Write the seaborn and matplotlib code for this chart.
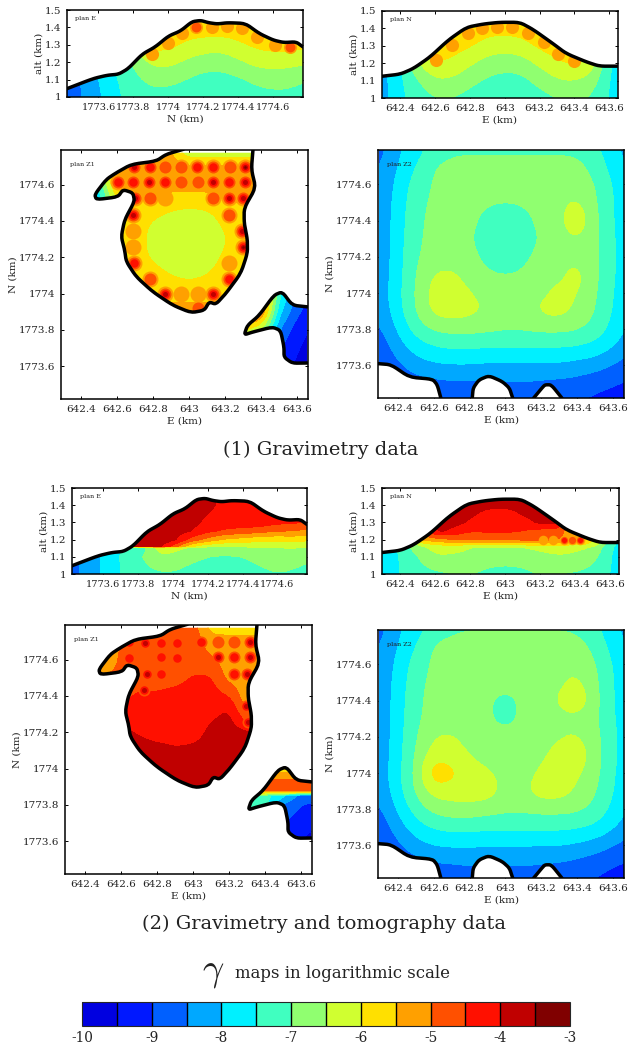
import matplotlib
matplotlib.use("Agg")
import matplotlib.pyplot as plt
import numpy as np
import seaborn as sns
from matplotlib.cm import ScalarMappable
from matplotlib.colors import BoundaryNorm, ListedColormap
from matplotlib.patches import Polygon

LEVEL_COLORS = ["#0000e0", "#0018ff", "#0060ff", "#00a8ff", "#00f0ff", "#40ffc0", "#90ff70",
                "#d0ff30", "#ffe000", "#ffa000", "#ff5000", "#ff1000", "#c00000", "#800000"]
LEVELS = [-10, -9.5, -9, -8.5, -8, -7.5, -7, -6.5, -6, -5.5, -5, -4.5, -4, -3.5, -3]
BAR_TICKS = [-10, -9, -8, -7, -6, -5, -4, -3]

NORTH_TICKS = [1773.6, 1773.8, 1774, 1774.2, 1774.4, 1774.6]
NORTH_LABELS = ["1773.6", "1773.8", "1774", "1774.2", "1774.4", "1774.6"]
EAST_TICKS = [642.4, 642.6, 642.8, 643, 643.2, 643.4, 643.6]
EAST_LABELS = ["642.4", "642.6", "642.8", "643", "643.2", "643.4", "643.6"]
ALT_TICKS = [1, 1.1, 1.2, 1.3, 1.4, 1.5]
ALT_LABELS = ["1", "1.1", "1.2", "1.3", "1.4", "1.5"]

# topography, sections
TOPO_E_N = [1773.42, 1773.57, 1773.65, 1773.715, 1773.77, 1773.85, 1773.925, 1774.0, 1774.07, 1774.135,
            1774.185, 1774.23, 1774.28, 1774.34, 1774.44, 1774.52, 1774.6, 1774.66, 1774.73, 1774.77]
TOPO_E_ALT = [1.048, 1.106, 1.125, 1.131, 1.163, 1.246, 1.288, 1.35, 1.38, 1.433,
              1.44, 1.427, 1.42, 1.427, 1.423, 1.365, 1.327, 1.313, 1.317, 1.288]
TOPO_N_E = [642.295, 642.4, 642.476, 642.571, 642.676, 642.78, 642.876, 642.97, 643.086, 643.162,
            643.276, 643.352, 643.467, 643.543, 643.648]
TOPO_N_ALT = [1.125, 1.137, 1.17, 1.236, 1.333, 1.406, 1.425, 1.435, 1.435, 1.394,
              1.313, 1.256, 1.208, 1.183, 1.183]

# map outlines
MAIN_E = [642.969, 642.873, 642.818, 642.68, 642.597, 642.541, 642.477, 642.486, 642.606, 642.634, 642.689,
          642.698, 642.643, 642.624, 642.643, 642.652, 642.707, 642.799, 642.91, 643.011, 643.085, 643.112,
          643.149, 643.204, 643.287, 643.324, 643.324, 643.306, 643.306, 643.37, 643.346, 643.355]
MAIN_N = [1774.794, 1774.766, 1774.729, 1774.711, 1774.665, 1774.628, 1774.545, 1774.517, 1774.532, 1774.572,
          1774.554, 1774.508, 1774.406, 1774.314, 1774.24, 1774.176, 1774.093, 1774.01, 1773.936, 1773.895,
          1773.908, 1773.954, 1773.941, 1774.0, 1774.111, 1774.222, 1774.296, 1774.388, 1774.471, 1774.582,
          1774.683, 1774.794]
EAST_E = [643.656, 643.573, 643.517, 643.471, 643.389, 643.324, 643.306, 643.352, 643.462, 643.508, 643.527,
          643.527, 643.573, 643.656]
EAST_N = [1773.927, 1773.936, 1774.01, 1773.991, 1773.88, 1773.825, 1773.773, 1773.788, 1773.816, 1773.797,
          1773.705, 1773.65, 1773.617, 1773.618]
HOLE1_E = [642.289, 642.363, 642.465, 642.594, 642.62, 642.64]
HOLE1_N = [1773.61, 1773.604, 1773.535, 1773.524, 1773.493, 1773.42]
HOLE2_E = [642.815, 642.82, 642.852, 642.908, 642.982, 643.022, 643.04]
HOLE2_N = [1773.42, 1773.475, 1773.52, 1773.543, 1773.511, 1773.475, 1773.42]
HOLE3_E = [643.157, 643.203, 643.22, 643.255, 643.314]
HOLE3_N = [1773.42, 1773.475, 1773.493, 1773.493, 1773.42]

# gamma grids (log10), rows = ascending altitude or north
SEC_N = [1773.4, 1773.5, 1773.6, 1773.7, 1773.8, 1773.9, 1774.0, 1774.1, 1774.2, 1774.3, 1774.4, 1774.5, 1774.6,
         1774.7, 1774.8]
SEC_E = [642.3, 642.4, 642.5, 642.6, 642.7, 642.8, 642.9, 643.0, 643.1, 643.2, 643.3, 643.4, 643.5, 643.6, 643.7]
SEC_ALT = [1.0, 1.1, 1.2, 1.3, 1.4, 1.5]
PLAN_E_GRAV = [
    [-8.85, -8.55, -8.1, -7.6, -7.3, -7.15, -7.2, -7.4, -7.45, -7.45, -7.4, -7.2, -7.15, -7.15, -7.3],
    [-8.8, -8.5, -8.0, -7.55, -7.15, -6.9, -6.85, -7.0, -7.2, -7.2, -7.1, -6.9, -6.8, -6.85, -7.0],
    [-8.7, -8.4, -7.9, -7.4, -6.95, -6.4, -6.35, -6.6, -6.75, -6.8, -6.6, -6.35, -6.3, -6.35, -6.45],
    [-8.6, -8.3, -7.8, -7.3, -6.5, -5.8, -5.85, -6.1, -6.25, -6.3, -6.1, -5.9, -5.8, -5.8, -5.9],
    [-8.5, -8.2, -7.7, -7.2, -6.2, -5.5, -5.5, -5.7, -5.7, -5.7, -5.7, -5.5, -5.5, -5.5, -5.5],
    [-8.5, -8.2, -7.7, -7.2, -6.1, -5.4, -5.4, -5.5, -5.5, -5.5, -5.5, -5.4, -5.4, -5.4, -5.4],
]
PLAN_N_GRAV = [
    [-8.2, -7.6, -7.3, -7.05, -7.05, -7.2, -7.4, -7.45, -7.4, -7.2, -7.05, -7.0, -7.05, -7.55, -7.9],
    [-8.2, -7.6, -7.05, -6.55, -6.6, -6.85, -7.1, -7.2, -7.15, -6.85, -6.55, -6.5, -6.75, -7.55, -7.9],
    [-8.1, -7.55, -6.5, -6.05, -6.1, -6.45, -6.7, -6.8, -6.75, -6.4, -6.1, -5.9, -6.2, -7.5, -7.85],
    [-8.0, -7.5, -6.2, -5.6, -5.8, -5.95, -6.25, -6.3, -6.2, -5.9, -5.7, -5.6, -5.8, -7.2, -7.8],
    [-8.0, -7.5, -6.0, -5.5, -5.5, -5.55, -5.8, -5.8, -5.8, -5.5, -5.4, -5.4, -5.6, -7.0, -7.7],
    [-8.0, -7.5, -6.0, -5.4, -5.4, -5.4, -5.5, -5.5, -5.5, -5.4, -5.4, -5.4, -5.5, -7.0, -7.7],
]
ALT_E_JOINT = [1.0, 1.1, 1.155, 1.16, 1.2, 1.25, 1.3, 1.4, 1.5]
PLAN_E_JOINT = [
    [-8.8, -8.3, -7.95, -7.45, -7.3, -7.1, -7.05, -7.3, -7.4, -7.45, -7.4, -7.15, -7.0, -7.1, -7.3],
    [-8.8, -8.3, -7.95, -7.45, -7.15, -6.6, -6.55, -6.8, -7.0, -7.05, -7.0, -6.8, -6.75, -6.75, -6.9],
    [-8.8, -8.3, -7.9, -7.45, -7.6, -6.3, -6.4, -6.5, -6.6, -6.7, -6.6, -6.5, -6.5, -6.45, -6.6],
    [-8.8, -8.3, -7.9, -3.8, -3.8, -3.7, -4.6, -6.0, -6.4, -6.5, -6.4, -6.35, -6.3, -6.3, -6.4],
    [-8.8, -8.3, -7.9, -3.8, -3.8, -3.7, -3.8, -4.7, -5.2, -5.6, -5.7, -5.9, -5.9, -5.8, -6.0],
    [-8.8, -8.3, -7.9, -3.8, -3.8, -3.8, -3.8, -3.95, -4.4, -4.6, -4.7, -4.8, -5.0, -5.0, -5.2],
    [-8.8, -8.3, -7.9, -3.8, -3.8, -3.8, -3.8, -3.8, -4.15, -4.2, -4.2, -4.2, -4.4, -4.4, -4.7],
    [-8.8, -8.3, -7.9, -3.8, -3.8, -3.8, -3.8, -3.8, -3.85, -4.2, -4.2, -4.2, -4.3, -4.4, -4.7],
    [-8.8, -8.3, -7.9, -3.8, -3.8, -3.8, -3.8, -3.8, -3.85, -4.2, -4.2, -4.2, -4.3, -4.4, -4.7],
]
ALT_N_JOINT = [1.0, 1.1, 1.155, 1.17, 1.2, 1.25, 1.3, 1.35, 1.4, 1.5]
PLAN_N_JOINT = [
    [-7.95, -7.45, -7.25, -7.1, -7.0, -6.95, -7.15, -7.2, -7.15, -6.95, -7.0, -7.05, -7.2, -7.5, -7.9],
    [-7.95, -7.45, -7.0, -6.55, -6.6, -6.65, -6.75, -6.8, -6.75, -6.65, -6.55, -6.6, -6.8, -7.5, -7.9],
    [-7.9, -7.4, -6.7, -6.3, -6.3, -6.5, -6.55, -6.55, -6.5, -6.4, -6.3, -6.4, -6.5, -7.45, -7.85],
    [-7.9, -7.4, -6.4, -6.0, -5.9, -6.0, -6.0, -6.05, -6.0, -5.8, -5.9, -6.0, -6.1, -7.4, -7.85],
    [-7.9, -7.4, -5.5, -5.2, -5.0, -5.0, -5.0, -5.0, -4.9, -4.8, -5.0, -5.3, -5.8, -7.4, -7.85],
    [-7.9, -7.4, -5.0, -3.9, -4.1, -4.5, -4.4, -4.4, -4.5, -4.7, -4.7, -5.5, -5.8, -7.4, -7.8],
    [-7.9, -7.4, -4.5, -3.8, -3.8, -4.1, -4.2, -4.2, -4.2, -3.9, -3.8, -5.5, -5.8, -7.4, -7.8],
    [-7.9, -7.4, -4.5, -3.8, -3.8, -3.9, -4.15, -4.2, -3.95, -3.8, -3.8, -5.5, -5.8, -7.4, -7.8],
    [-7.9, -7.4, -4.5, -3.8, -3.8, -3.8, -3.9, -3.9, -3.85, -3.8, -3.8, -5.5, -5.8, -7.4, -7.8],
    [-7.9, -7.4, -4.5, -3.8, -3.8, -3.8, -3.85, -3.85, -3.8, -3.8, -3.8, -5.5, -5.8, -7.4, -7.8],
]

MAP_N = [1773.4, 1773.5, 1773.6, 1773.7, 1773.8, 1773.9, 1774.0, 1774.1, 1774.2, 1774.3, 1774.4, 1774.5, 1774.6,
         1774.7, 1774.8]
Z2_GRAV = [
    [-9.4, -9.2, -9.1, -9.0, -9.0, -9.0, -8.95, -8.9, -8.9, -8.95, -9.0, -9.05, -9.1, -9.25, -9.4],
    [-9.3, -9.0, -8.75, -8.65, -8.6, -8.6, -8.6, -8.55, -8.55, -8.6, -8.65, -8.7, -8.85, -8.95, -9.1],
    [-9.1, -8.6, -8.25, -8.1, -8.05, -8.05, -8.1, -8.1, -8.1, -8.1, -8.1, -8.2, -8.3, -8.55, -8.8],
    [-8.85, -8.25, -7.8, -7.55, -7.45, -7.45, -7.5, -7.5, -7.5, -7.5, -7.5, -7.55, -7.7, -8.0, -8.4],
    [-8.6, -7.95, -7.3, -6.95, -6.85, -6.85, -6.9, -6.95, -6.95, -6.9, -6.9, -6.95, -7.2, -7.7, -8.15],
    [-8.4, -7.7, -7.0, -6.35, -6.25, -6.35, -6.55, -6.75, -6.7, -6.4, -6.3, -6.65, -7.0, -7.55, -8.0],
    [-8.3, -7.65, -6.95, -6.3, -6.25, -6.45, -6.7, -6.8, -6.75, -6.6, -6.35, -6.45, -6.95, -7.5, -8.0],
    [-8.35, -7.7, -7.0, -6.45, -6.4, -6.7, -6.95, -7.0, -6.95, -6.75, -6.6, -6.3, -6.9, -7.45, -7.95],
    [-8.4, -7.7, -7.05, -6.8, -6.7, -6.85, -7.15, -7.25, -7.1, -6.85, -6.7, -6.62, -6.9, -7.45, -7.95],
    [-8.4, -7.75, -7.1, -6.85, -6.75, -6.95, -7.25, -7.35, -7.25, -6.95, -6.75, -6.5, -6.9, -7.45, -7.95],
    [-8.4, -7.75, -7.15, -6.85, -6.75, -6.85, -7.2, -7.25, -7.2, -6.85, -6.6, -6.1, -6.9, -7.5, -7.95],
    [-8.4, -7.8, -7.2, -6.9, -6.75, -6.8, -6.95, -7.0, -6.95, -6.75, -6.65, -6.4, -6.95, -7.5, -7.95],
    [-8.5, -7.85, -7.3, -6.95, -6.75, -6.75, -6.8, -6.8, -6.8, -6.75, -6.7, -6.7, -7.0, -7.55, -8.0],
    [-8.55, -8.0, -7.5, -7.0, -6.9, -6.85, -6.85, -6.85, -6.85, -6.85, -6.85, -6.85, -7.2, -7.7, -8.1],
    [-8.7, -8.1, -7.75, -7.3, -7.1, -7.1, -7.1, -7.1, -7.1, -7.1, -7.1, -7.15, -7.4, -7.85, -8.3],
]
Z2_JOINT = [
    [-9.4, -9.2, -9.1, -9.0, -8.95, -8.9, -8.85, -8.85, -8.85, -8.9, -8.95, -9.0, -9.05, -9.2, -9.3],
    [-9.3, -9.0, -8.7, -8.55, -8.5, -8.45, -8.45, -8.45, -8.45, -8.5, -8.55, -8.65, -8.8, -8.95, -9.1],
    [-9.1, -8.6, -8.2, -8.0, -7.95, -7.95, -8.0, -8.0, -8.0, -8.0, -8.0, -8.1, -8.25, -8.5, -8.75],
    [-8.85, -8.25, -7.75, -7.45, -7.35, -7.35, -7.4, -7.4, -7.4, -7.4, -7.4, -7.45, -7.6, -7.95, -8.35],
    [-8.6, -7.95, -7.3, -6.85, -6.7, -6.7, -6.8, -6.9, -6.9, -6.85, -6.85, -6.9, -7.15, -7.65, -8.1],
    [-8.4, -7.7, -6.95, -6.3, -6.25, -6.2, -6.25, -6.65, -6.6, -6.25, -6.25, -6.6, -6.95, -7.5, -8.0],
    [-8.3, -7.65, -6.9, -5.6, -5.85, -6.25, -6.4, -6.7, -6.7, -6.4, -6.2, -6.4, -6.85, -7.45, -7.95],
    [-8.35, -7.7, -6.95, -6.25, -6.25, -6.5, -6.75, -6.85, -6.8, -6.6, -6.3, -6.15, -6.8, -7.4, -7.9],
    [-8.4, -7.7, -7.05, -6.5, -6.45, -6.7, -6.8, -6.7, -6.8, -6.7, -6.55, -6.45, -6.85, -7.4, -7.9],
    [-8.4, -7.75, -7.1, -6.8, -6.7, -6.75, -6.9, -7.25, -6.85, -6.7, -6.65, -6.65, -6.9, -7.45, -7.95],
    [-8.4, -7.75, -7.15, -6.8, -6.7, -6.75, -6.9, -7.25, -6.85, -6.7, -6.45, -6.1, -6.85, -7.5, -7.95],
    [-8.4, -7.8, -7.2, -6.85, -6.7, -6.7, -6.8, -6.7, -6.8, -6.7, -6.6, -6.35, -6.9, -7.5, -7.95],
    [-8.5, -7.85, -7.3, -6.9, -6.7, -6.7, -6.75, -6.75, -6.75, -6.7, -6.65, -6.65, -6.95, -7.55, -8.0],
    [-8.55, -8.0, -7.5, -6.95, -6.85, -6.8, -6.8, -6.8, -6.8, -6.8, -6.8, -6.8, -7.15, -7.7, -8.1],
    [-8.7, -8.1, -7.75, -7.3, -7.1, -7.05, -7.05, -7.05, -7.05, -7.05, -7.05, -7.1, -7.4, -7.85, -8.3],
]

Z1_E = [642.3, 642.4, 642.5, 642.6, 642.7, 642.8, 642.9, 643.0, 643.1, 643.2, 643.3, 643.4]
Z1_N = [1773.9, 1774.0, 1774.1, 1774.2, 1774.3, 1774.4, 1774.5, 1774.6, 1774.7, 1774.8]
Z1_GRAV = [
    [-5.5, -5.5, -5.5, -5.5, -5.5, -5.4, -5.4, -5.4, -5.4, -5.4, -5.5, -5.5],
    [-5.7, -5.7, -5.7, -5.7, -5.7, -5.6, -5.6, -5.6, -5.6, -5.6, -5.7, -5.7],
    [-5.7, -5.7, -5.7, -5.7, -5.6, -5.75, -6.0, -6.15, -6.0, -5.7, -5.6, -5.6],
    [-5.7, -5.7, -5.7, -5.7, -5.7, -6.1, -6.35, -6.45, -6.3, -5.9, -5.6, -5.6],
    [-5.7, -5.7, -5.7, -5.7, -5.65, -6.25, -6.4, -6.4, -6.4, -6.05, -5.7, -5.6],
    [-5.7, -5.7, -5.7, -5.7, -5.65, -6.05, -6.25, -6.35, -6.3, -5.85, -5.6, -5.6],
    [-9.0, -9.0, -8.0, -6.0, -5.6, -5.55, -5.8, -5.85, -5.8, -5.5, -5.5, -5.5],
    [-8.0, -8.0, -7.5, -5.3, -5.3, -5.3, -5.3, -5.3, -5.3, -5.3, -5.3, -5.3],
    [-5.5, -5.5, -5.5, -5.4, -5.3, -5.3, -5.3, -5.3, -5.3, -5.3, -5.3, -5.3],
    [-5.5, -5.5, -5.5, -5.5, -5.4, -5.4, -5.4, -6.8, -6.8, -6.8, -6.8, -6.8],
]
Z1_JOINT = [
    [-3.7, -3.7, -3.7, -3.7, -3.7, -3.7, -3.7, -3.65, -3.7, -3.7, -3.7, -3.7],
    [-3.8, -3.8, -3.8, -3.8, -3.8, -3.8, -3.8, -3.8, -3.8, -3.75, -3.7, -3.7],
    [-3.8, -3.8, -3.8, -3.8, -3.8, -3.85, -3.95, -3.9, -3.8, -3.75, -3.7, -3.7],
    [-3.9, -3.9, -3.9, -3.9, -4.05, -4.2, -4.2, -4.2, -3.9, -3.8, -3.9, -3.9],
    [-4.2, -4.2, -4.2, -4.2, -4.2, -4.2, -4.2, -4.2, -4.1, -3.9, -5.0, -5.2],
    [-4.7, -4.7, -4.7, -4.7, -4.4, -4.4, -4.3, -4.3, -4.3, -4.5, -5.4, -5.4],
    [-4.8, -4.8, -4.8, -4.8, -4.8, -4.8, -4.7, -4.45, -4.45, -5.2, -5.3, -5.4],
    [-6.5, -6.5, -5.9, -4.8, -4.8, -4.8, -4.8, -4.75, -4.9, -5.3, -5.3, -5.3],
    [-5.5, -5.5, -5.5, -5.0, -4.8, -4.8, -4.8, -4.7, -5.3, -5.3, -5.3, -5.3],
    [-5.2, -5.2, -5.2, -5.0, -4.8, -4.8, -4.8, -4.8, -5.8, -5.9, -5.9, -5.9],
]
ISLE_E = [643.3, 643.4, 643.5, 643.6, 643.7]
ISLE_N_GRAV = [1773.6, 1773.7, 1773.8, 1773.9, 1774.0]
ISLE_GRAV = [
    [-8.0, -8.7, -9.3, -9.6, -10.0],
    [-7.0, -8.0, -9.0, -9.45, -9.8],
    [-6.0, -6.5, -8.5, -9.3, -9.6],
    [-4.0, -4.8, -7.9, -8.9, -9.4],
    [-3.8, -4.5, -7.4, -8.6, -9.2],
]
ISLE_N_JOINT = [1773.6, 1773.7, 1773.8, 1773.85, 1773.88, 1773.93, 1774.0]
ISLE_JOINT = [
    [-8.6, -9.0, -9.4, -9.5, -9.8],
    [-8.0, -8.5, -9.0, -9.3, -9.4],
    [-7.0, -7.3, -8.6, -9.0, -9.1],
    [-7.0, -7.3, -7.9, -8.7, -8.9],
    [-4.7, -4.8, -4.7, -4.7, -4.8],
    [-5.0, -4.9, -4.9, -4.8, -5.0],
    [-6.0, -5.6, -5.8, -5.8, -5.8],
]

# station bullseyes: position and peak log gamma
BLOB_E1_N = [1773.905, 1773.996, 1774.08, 1774.16, 1774.248, 1774.333, 1774.42, 1774.505, 1774.61, 1774.695]
BLOB_E1_ALT = [1.25, 1.308, 1.365, 1.404, 1.404, 1.408, 1.394, 1.342, 1.298, 1.288]
BLOB_E1_PEAK = [-5.3, -5.3, -5.3, -4.8, -5.3, -5.3, -5.3, -5.3, -5.3, -4.9]
BLOB_N1_E = [642.604, 642.695, 642.787, 642.872, 642.958, 643.044, 643.133, 643.223, 643.307, 643.396]
BLOB_N1_ALT = [1.221, 1.304, 1.371, 1.4, 1.406, 1.406, 1.371, 1.323, 1.252, 1.212]
BLOB_N1_PEAK = [-5.2, -5.3, -5.3, -5.3, -5.3, -5.3, -5.3, -5.3, -5.3, -5.2]
BLOB_N2_E = [643.215, 643.272, 643.333, 643.381, 643.429]
BLOB_N2_ALT = [1.198, 1.198, 1.198, 1.198, 1.198]
BLOB_N2_PEAK = [-5.2, -5.2, -4.1, -5.0, -4.4]
BLOB_Z1_E = [642.694, 642.781, 642.867, 642.956, 643.044, 643.131, 643.227, 643.309,
             642.606, 642.692, 642.777, 642.867, 642.956, 643.048, 643.134, 643.223, 643.311,
             642.703, 642.781, 642.867, 643.131, 643.223, 643.3,
             642.689, 643.223, 642.689, 643.293, 642.689, 643.297,
             642.694, 643.223, 642.781, 643.223,
             642.867, 642.956, 643.048, 643.134, 643.048]
BLOB_Z1_N = [1774.698, 1774.698, 1774.698, 1774.698, 1774.698, 1774.698, 1774.698, 1774.698,
             1774.613, 1774.613, 1774.613, 1774.613, 1774.613, 1774.613, 1774.613, 1774.613, 1774.613,
             1774.526, 1774.526, 1774.526, 1774.526, 1774.526, 1774.526,
             1774.434, 1774.434, 1774.347, 1774.347, 1774.259, 1774.259,
             1774.166, 1774.166, 1774.078, 1774.078,
             1773.997, 1773.997, 1773.997, 1773.997, 1773.92]
BLOB_Z1_PEAK = [-3.9, -4.2, -4.8, -4.8, -4.2, -4.4, -4.8, -3.4,
                -4.3, -4.2, -3.8, -4.2, -4.8, -4.8, -3.8, -4.1, -3.8,
                -3.9, -4.8, -5.3, -4.8, -4.0, -4.0,
                -3.8, -4.8, -5.3, -3.8, -5.3, -3.5,
                -4.3, -5.3, -4.6, -4.4,
                -3.8, -5.1, -5.1, -4.0, -4.8]
BLOB_Z1J_E = [643.138, 643.227, 643.314, 643.138, 643.227, 643.314, 643.227, 643.3, 643.295, 643.304,
              642.646, 642.734, 642.823, 642.911, 643.046,
              642.823, 642.911, 642.646, 642.734, 642.823, 642.745, 642.727]
BLOB_Z1J_N = [1774.698, 1774.698, 1774.698, 1774.613, 1774.613, 1774.613, 1774.52, 1774.52, 1774.347, 1774.259,
              1774.698, 1774.691, 1774.691, 1774.691, 1774.698,
              1774.613, 1774.61, 1774.61, 1774.62, 1774.52, 1774.52, 1774.434]
BLOB_Z1J_PEAK = [-4.7, -4.9, -3.7, -3.8, -4.2, -4.0, -4.2, -3.9, -4.0, -3.9,
                 -4.5, -3.9, -4.5, -4.5, -4.3,
                 -4.1, -4.3, -4.3, -4.6, -4.4, -3.9, -3.9]

# ring threshold -> marker diameter in pixels
RING_LEVELS = [-5.5, -5.0, -4.5, -4.0, -3.5]
RING_SIZES = [16, 12, 8.5, 5, 2.5]
RING_COLORS = LEVEL_COLORS[9:14]

sns.set_theme(style="ticks", font="DejaVu Serif")
plt.rcParams["font.family"] = ["DejaVu Serif"]
plt.rcParams["mathtext.fontset"] = "cm"
PALETTE = sns.color_palette(LEVEL_COLORS)
FIG_W, FIG_H = 628, 1048
TICK_SIZE = 7.5
TEXT_COLOR = "#222222"


def make_axes(fig, left, top, right, bottom):
    return fig.add_axes([left / FIG_W, 1 - bottom / FIG_H, (right - left) / FIG_W, (bottom - top) / FIG_H])


def round_line(xs, ys, rounds=2, cut=0.18):
    # light corner cutting so hand-read outlines do not look polygonal
    pts = np.column_stack([xs, ys]).astype(float)
    for _ in range(rounds):
        q = (1 - cut) * pts[:-1] + cut * pts[1:]
        r = cut * pts[:-1] + (1 - cut) * pts[1:]
        mid = np.empty((q.shape[0] * 2, 2))
        mid[0::2], mid[1::2] = q, r
        pts = np.vstack([pts[0], mid, pts[-1]])
    return pts[:, 0], pts[:, 1]


def clip_patch(ax, xs, ys):
    patch = Polygon(np.column_stack([xs, ys]), closed=True, transform=ax.transData, facecolor="none", edgecolor="none")
    ax.add_patch(patch)
    return patch


def soften(values, width):
    if width < 2:
        return values
    pad = width // 2
    kernel = np.ones(2 * pad + 1) / (2 * pad + 1)
    padded = np.pad(values, pad, mode="edge")
    return np.convolve(padded, kernel, mode="valid")


def draw_field(ax, xs, ys, grid, patch=None, sx=1.0, sy=1.0, factor=10):
    grid = np.array(grid, dtype=float)
    ix = np.arange(len(xs))
    iy = np.arange(len(ys))
    fine_ix = np.linspace(0, len(xs) - 1, (len(xs) - 1) * factor + 1)
    fine_iy = np.linspace(0, len(ys) - 1, (len(ys) - 1) * factor + 1)
    fine = np.array([np.interp(fine_ix, ix, row) for row in grid])
    fine = np.array([np.interp(fine_iy, iy, col) for col in fine.T]).T
    fine = np.array([soften(row, int(sx * factor)) for row in fine])
    fine = np.array([soften(col, int(sy * factor)) for col in fine.T]).T
    fx = np.interp(fine_ix, ix, xs)
    fy = np.interp(fine_iy, iy, ys)
    cs = ax.contourf(fx, fy, np.clip(fine, -9.99, -3.01), levels=LEVELS, colors=PALETTE)
    if patch is not None:
        cs.set_clip_path(patch)


def draw_blobs(ax, xs, ys, peaks, patch, start=-5.5, scale=1.0):
    xs, ys, peaks = np.array(xs), np.array(ys), np.array(peaks)
    for level, size, color in zip(RING_LEVELS, RING_SIZES, RING_COLORS):
        keep = peaks >= level
        if level < start or not keep.any():
            continue
        sns.scatterplot(x=xs[keep], y=ys[keep], s=(size * scale * 0.72) ** 2, color=color, linewidth=0, ax=ax, zorder=3)
        ax.collections[-1].set_clip_path(patch)


def draw_outline(ax, xs, ys):
    sns.lineplot(x=xs, y=ys, sort=False, estimator=None, color="black", linewidth=2.5, ax=ax, zorder=5)


def finish_axes(ax, xlim, ylim, xticks, xlabels, yticks, ylabels, xname, yname, plan, plan_xy, x_size=TICK_SIZE):
    ax.set_xlim(*xlim)
    ax.set_ylim(*ylim)
    ax.set_xticks(xticks, xlabels)
    ax.set_yticks(yticks, ylabels)
    ax.tick_params(direction="in", top=True, right=True, length=2.5, width=0.7, labelsize=TICK_SIZE, pad=4,
                   color="black", labelcolor=TEXT_COLOR)
    ax.tick_params(axis="x", labelsize=x_size)
    ax.set_xlabel(xname, fontsize=TICK_SIZE, labelpad=2, color=TEXT_COLOR)
    ax.set_ylabel(yname, fontsize=TICK_SIZE, labelpad=1, color=TEXT_COLOR)
    for spine in ax.spines.values():
        spine.set_linewidth(1.1)
        spine.set_color("black")
        spine.set_zorder(6)
    ax.text(plan_xy[0], plan_xy[1], plan, transform=ax.transAxes, fontsize=4.6, color=TEXT_COLOR, va="center", zorder=7)


def section_panel(fig, box, xs, ys, grid, topo_x, topo_y, xlim, xticks, xlabels, xname, plan, sy, blobs=None,
                  blob_scale=0.82):
    ax = make_axes(fig, *box)
    line_x, line_y = round_line(topo_x, topo_y)
    patch = clip_patch(ax, list(line_x) + [topo_x[-1], topo_x[0]], list(line_y) + [1.0, 1.0])
    draw_field(ax, xs, ys, grid, patch, sx=1.0, sy=sy)
    if blobs is not None:
        draw_blobs(ax, *blobs, patch, scale=blob_scale)
    draw_outline(ax, line_x, line_y)
    x_size = 7.0 if xname.startswith("N") else TICK_SIZE
    finish_axes(ax, xlim, (1, 1.5), xticks, xlabels, ALT_TICKS, ALT_LABELS, xname, "alt (km)", plan, (0.035, 0.9),
                x_size)


def island_panel(fig, box, main_grid, isle_n, isle_grid, blobs, start, sm, isle_sy):
    ax = make_axes(fig, *box)
    main_x, main_y = round_line(MAIN_E, MAIN_N)
    east_x, east_y = round_line(EAST_E, EAST_N)
    main = clip_patch(ax, main_x, np.minimum(main_y, 1774.775))
    east = clip_patch(ax, east_x, east_y)
    draw_field(ax, Z1_E, Z1_N, main_grid, main, sx=sm, sy=sm)
    draw_blobs(ax, *blobs, main, start=start)
    draw_field(ax, ISLE_E, isle_n, isle_grid, east, sx=0.7, sy=isle_sy)
    draw_outline(ax, main_x, main_y)
    draw_outline(ax, east_x, east_y)
    finish_axes(ax, (642.29, 643.66), (1773.42, 1774.79), EAST_TICKS, EAST_LABELS, NORTH_TICKS, NORTH_LABELS,
                "E (km)", "N (km)", "plan Z1", (0.036, 0.94))


def z2_panel(fig, box, grid):
    ax = make_axes(fig, *box)
    draw_field(ax, SEC_E, MAP_N, grid)
    for index, (hole_e, hole_n) in enumerate([(HOLE1_E, HOLE1_N), (HOLE2_E, HOLE2_N), (HOLE3_E, HOLE3_N)]):
        line_x, line_y = round_line(hole_e, hole_n)
        if index == 0:
            ax.fill(list(line_x) + [hole_e[0]], list(line_y) + [hole_n[-1]], color="white", zorder=4, linewidth=1.5)
        else:
            ax.fill(line_x, line_y, color="white", zorder=4, linewidth=1.5)
        draw_outline(ax, line_x, line_y)
    finish_axes(ax, (642.29, 643.66), (1773.42, 1774.79), EAST_TICKS, EAST_LABELS, NORTH_TICKS, NORTH_LABELS,
                "E (km)", "N (km)", "plan Z2", (0.036, 0.94))


fig = plt.figure(figsize=(FIG_W / 100, FIG_H / 100), dpi=100)

north_lim = (1773.42, 1774.77)
east_lim = (642.295, 643.65)
section_panel(fig, (67, 10, 303, 97), SEC_N, SEC_ALT, PLAN_E_GRAV, TOPO_E_N, TOPO_E_ALT, north_lim,
              NORTH_TICKS, NORTH_LABELS, "N (km)", "plan E", 1.0, (BLOB_E1_N, BLOB_E1_ALT, BLOB_E1_PEAK))
section_panel(fig, (382, 11, 618, 98), SEC_E, SEC_ALT, PLAN_N_GRAV, TOPO_N_E, TOPO_N_ALT, east_lim,
              EAST_TICKS, EAST_LABELS, "E (km)", "plan N", 1.0, (BLOB_N1_E, BLOB_N1_ALT, BLOB_N1_PEAK))
island_panel(fig, (61, 150, 308, 399), Z1_GRAV, ISLE_N_GRAV, ISLE_GRAV, (BLOB_Z1_E, BLOB_Z1_N, BLOB_Z1_PEAK),
             -5.5, 0.8, 0.7)
z2_panel(fig, (378, 150, 624, 398), Z2_GRAV)

section_panel(fig, (72, 488, 307, 574), SEC_N, ALT_E_JOINT, PLAN_E_JOINT, TOPO_E_N, TOPO_E_ALT, north_lim,
              NORTH_TICKS, NORTH_LABELS, "N (km)", "plan E", 0.0)
section_panel(fig, (382, 488, 619, 574), SEC_E, ALT_N_JOINT, PLAN_N_JOINT, TOPO_N_E, TOPO_N_ALT, east_lim,
              EAST_TICKS, EAST_LABELS, "E (km)", "plan N", 0.0, (BLOB_N2_E, BLOB_N2_ALT, BLOB_N2_PEAK), 0.6)
island_panel(fig, (65, 625, 312, 874), Z1_JOINT, ISLE_N_JOINT, ISLE_JOINT,
             (BLOB_Z1J_E, BLOB_Z1J_N, BLOB_Z1J_PEAK), -5.0, 0.6, 0.0)
z2_panel(fig, (378, 630, 624, 878), Z2_JOINT)

fig.text(321 / FIG_W, 1 - 450 / FIG_H, "(1) Gravimetry data", fontsize=14, ha="center", va="center", color=TEXT_COLOR)
fig.text(324 / FIG_W, 1 - 924 / FIG_H, "(2) Gravimetry and tomography data", fontsize=14, ha="center", va="center",
         color=TEXT_COLOR)
fig.text(213 / FIG_W, 1 - 972 / FIG_H, r"$\gamma$", fontsize=27, ha="center", va="center", color=TEXT_COLOR)
fig.text(235 / FIG_W, 1 - 974 / FIG_H, "maps in logarithmic scale", fontsize=11.9, ha="left", va="center",
         color=TEXT_COLOR)

bar_ax = make_axes(fig, 82, 1002, 570, 1026)
norm = BoundaryNorm(LEVELS, len(LEVEL_COLORS))
bar = fig.colorbar(ScalarMappable(norm=norm, cmap=ListedColormap(PALETTE)), cax=bar_ax, orientation="horizontal",
                   ticks=BAR_TICKS, spacing="proportional", drawedges=True)
bar.minorticks_off()
bar.dividers.set_color("black")
bar.dividers.set_linewidth(1.0)
bar.outline.set_linewidth(0.8)
bar.ax.set_xticklabels([str(t) for t in BAR_TICKS])
bar.ax.tick_params(length=0, labelsize=9.8, pad=3.5, labelcolor=TEXT_COLOR)

fig.savefig("out.png", dpi=100)
